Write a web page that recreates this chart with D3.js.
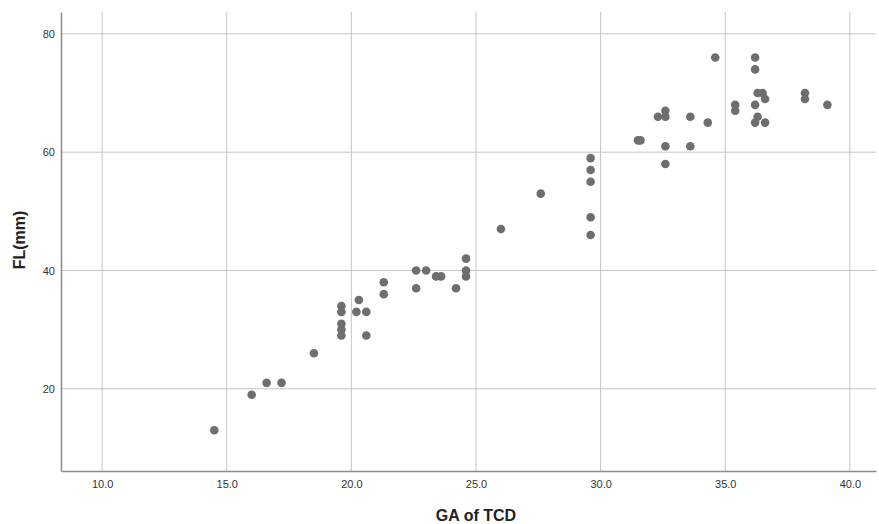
<!DOCTYPE html>
<html>
<head>
<meta charset="utf-8">
<script src="https://cdn.jsdelivr.net/npm/d3@7"></script>
<style>
  body { margin: 0; background: #fff; }
  text { font-family: "Liberation Sans", Arial, sans-serif; }
</style>
</head>
<body>
<div id="chart"></div>
<script>
var w = 879;
var h = 524;

// GA of TCD (weeks) and FL (mm)
var gaValues = [14.5, 16.0, 16.6, 17.2, 18.5,
  19.6, 19.6, 19.6, 19.6, 19.6,
  20.2, 20.3, 20.6, 20.6, 21.3, 21.3,
  22.6, 22.6, 23.0, 23.4, 23.6, 24.2,
  24.6, 24.6, 24.6, 26.0, 27.6,
  29.6, 29.6, 29.6, 29.6, 29.6,
  31.5, 31.6, 32.3, 32.6, 32.6, 32.6, 32.6,
  33.6, 33.6, 34.3, 34.6, 35.4, 35.4,
  36.2, 36.2, 36.2, 36.2, 36.3, 36.3, 36.5, 36.6, 36.6,
  38.2, 38.2, 39.1];
var flValues = [13, 19, 21, 21, 26,
  34, 33, 31, 30, 29,
  33, 35, 33, 29, 38, 36,
  40, 37, 40, 39, 39, 37,
  42, 40, 39, 47, 53,
  59, 57, 55, 49, 46,
  62, 62, 66, 67, 66, 61, 58,
  66, 61, 65, 76, 68, 67,
  76, 74, 68, 65, 70, 66, 70, 69, 65,
  70, 69, 68];
var xTicks = [10, 15, 20, 25, 30, 35, 40];
var yTicks = [20, 40, 60, 80];

var margin = {left: 61, right: 3, top: 12, bottom: 53};

var svg = d3.select("#chart").append("svg")
  .attr("width", w)
  .attr("height", h);

var x = d3.scaleLinear().domain([8.35, 41.05]).range([margin.left, w - margin.right]);
var y = d3.scaleLinear().domain([6.1, 83.7]).range([h - margin.bottom, margin.top]);

// grid
svg.append("g").selectAll("line.vx")
  .data(xTicks).enter().append("line")
  .attr("x1", function(d) { return x(d); })
  .attr("x2", function(d) { return x(d); })
  .attr("y1", margin.top)
  .attr("y2", h - margin.bottom)
  .attr("stroke", "#c4c4c4")
  .attr("stroke-width", 1);

svg.append("g").selectAll("line.hy")
  .data(yTicks).enter().append("line")
  .attr("x1", margin.left)
  .attr("x2", w - margin.right)
  .attr("y1", function(d) { return y(d); })
  .attr("y2", function(d) { return y(d); })
  .attr("stroke", "#c4c4c4")
  .attr("stroke-width", 1);

// axes
var xAxis = d3.axisBottom(x).tickValues(xTicks).tickSize(0).tickPadding(9)
  .tickFormat(d3.format(".1f"));
var yAxis = d3.axisLeft(y).tickValues(yTicks).tickSize(0).tickPadding(6);

var gx = svg.append("g")
  .attr("transform", "translate(0," + (h - margin.bottom) + ")")
  .call(xAxis);
var gy = svg.append("g")
  .attr("transform", "translate(" + margin.left + ",0)")
  .call(yAxis);

[gx, gy].forEach(function(g) {
  g.select(".domain").attr("stroke", "#8a8a8a").attr("stroke-width", 1.5);
  g.selectAll("text").attr("font-size", 11).attr("fill", "#333")
    .attr("font-family", "Liberation Sans, Arial, sans-serif");
});

// points
svg.append("g").selectAll("circle")
  .data(gaValues).enter().append("circle")
  .attr("cx", function(d) { return x(d); })
  .attr("cy", function(d, i) { return y(flValues[i]); })
  .attr("r", 4.3)
  .attr("fill", "#6e6e6e");

// titles
svg.append("text")
  .attr("x", 476)
  .attr("y", 521)
  .attr("text-anchor", "middle")
  .attr("font-size", 16)
  .attr("font-weight", "bold")
  .attr("fill", "#222")
  .text("GA of TCD");

svg.append("text")
  .attr("transform", "translate(25,240) rotate(-90)")
  .attr("text-anchor", "middle")
  .attr("font-size", 16)
  .attr("font-weight", "bold")
  .attr("fill", "#222")
  .text("FL(mm)");
</script>
</body>
</html>
